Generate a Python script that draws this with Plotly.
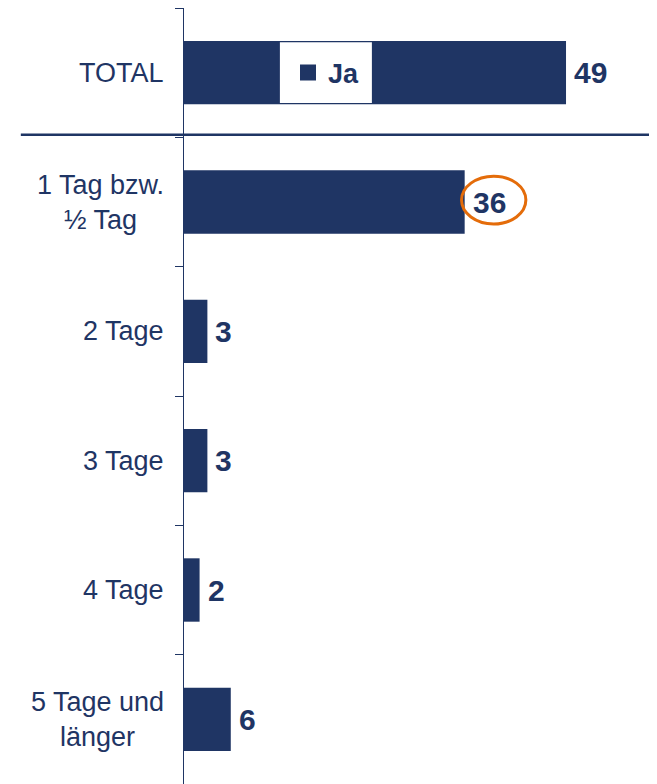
import plotly.graph_objects as go

categories = ["TOTAL", "1 Tag bzw.<br>½ Tag", "2 Tage", "3 Tage", "4 Tage", "5 Tage und<br>länger"]
values = [49, 36, 3, 3, 2, 6]
series_name = "Ja"
highlight_index = 1

NAVY = "#1f3564"
ORANGE = "#e46c0a"
FONT = "Liberation Sans, Arial, sans-serif"

fig = go.Figure()
fig.add_trace(go.Bar(
    y=categories, x=values, orientation="h", name=series_name,
    marker=dict(color=NAVY, line=dict(width=0)), width=0.49,
    showlegend=False, hoverinfo="skip",
))
# legend entry (square swatch) for the series
fig.add_trace(go.Scatter(
    x=[None], y=[None], mode="markers", name=series_name,
    marker=dict(symbol="square", size=16, color=NAVY), showlegend=True,
))

# category labels (centre-aligned lines, right-anchored at the axis)
for c in categories:
    fig.add_annotation(x=0, y=c, xref="paper", yref="y", text=c,
                       showarrow=False, xanchor="right", align="center",
                       xshift=-18, font=dict(family=FONT, size=27, color=NAVY))

# value labels
for c, v in zip(categories, values):
    fig.add_annotation(x=v, y=c, xref="x", yref="y", text=f"<b>{v}</b>",
                       showarrow=False, xanchor="left", xshift=6,
                       font=dict(family=FONT, size=30, color=NAVY))

# highlight circle around the 36 label
hv = values[highlight_index]
fig.add_shape(type="circle", xref="x", yref="y",
              x0=hv - 0.4, x1=hv + 7.85,
              y0=highlight_index - 0.2, y1=highlight_index + 0.17,
              line=dict(color=ORANGE, width=3), layer="above")

# white legend background box within total bar
fig.add_shape(type="rect", xref="x", yref="y", x0=12.3, x1=24.1,
              y0=-0.235, y1=0.235, fillcolor="white",
              line=dict(width=0), layer="above")

# separator line below TOTAL
fig.add_shape(type="line", xref="paper", yref="y", x0=-0.345, x1=1,
              y0=0.48, y1=0.48, line=dict(color=NAVY, width=2.5))

fig.update_layout(
    width=649, height=776,
    margin=dict(l=176, r=0, t=0, b=0),
    plot_bgcolor="white", paper_bgcolor="white",
    font=dict(family=FONT, color=NAVY),
    legend=dict(x=(288 - 184) / 473, xanchor="left", y=1 - (73 - 8) / 776, yanchor="middle",
                bgcolor="rgba(0,0,0,0)", borderwidth=0,
                font=dict(family=FONT, size=27, color=NAVY, weight="bold"),
                itemclick=False, itemdoubleclick=False),
    xaxis=dict(range=[0, 60.67], visible=False, fixedrange=True),
    yaxis=dict(autorange="reversed", type="category", showline=True,
               linecolor=NAVY, linewidth=1, ticks="outside", tickson="boundaries",
               ticklen=8, tickcolor=NAVY, tickwidth=1, showticklabels=False,
               showgrid=False, zeroline=False, fixedrange=True),
)

fig.write_html("out.html")
